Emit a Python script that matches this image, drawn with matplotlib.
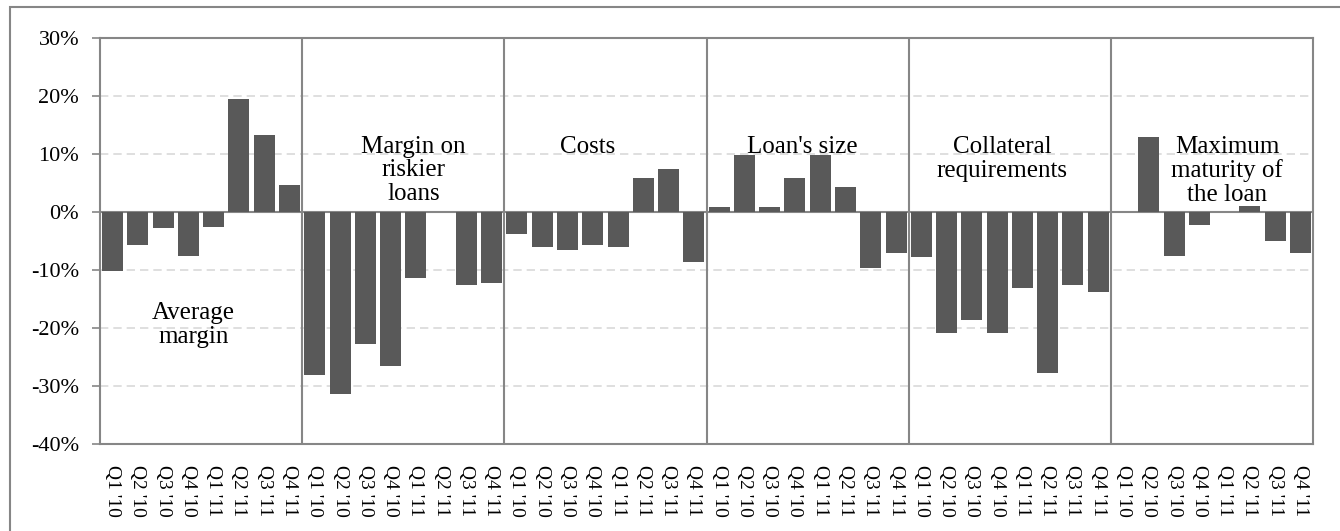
import matplotlib

matplotlib.use("Agg")
import matplotlib.pyplot as plt
from matplotlib.patches import Rectangle
from matplotlib.ticker import FuncFormatter
import numpy as np

quarters = ["Q1 '10", "Q2 '10", "Q3 '10", "Q4 '10", "Q1 '11", "Q2 '11", "Q3 '11", "Q4 '11"]
groups = [
    "Average\nmargin",
    "Margin on\nriskier\nloans",
    "Costs",
    "Loan's size",
    "Collateral\nrequirements",
    "Maximum\nmaturity of\nthe loan",
]
avg_margin = [-10.2, -5.6, -2.8, -7.5, -2.5, 19.5, 13.3, 4.6]
riskier_margin = [-28.1, -31.3, -22.8, -26.6, -11.3, 0.0, -12.6, -12.2]
costs = [-3.8, -6.0, -6.6, -5.6, -6.0, 5.9, 7.4, -8.7]
loan_size = [0.8, 9.9, 0.8, 5.9, 9.9, 4.3, -9.7, -7.1]
collateral = [-7.8, -20.9, -18.7, -20.9, -13.1, -27.8, -12.5, -13.8]
maturity = [0.0, 13.0, -7.5, -2.2, 0.0, 1.1, -5.0, -7.1]

# where each group name sits (bar index, value in %)
label_x = [3.2, 11.9, 18.8, 27.3, 35.2, 44.1]
label_y = [-19.5, 7.2, 11.2, 11.2, 9.2, 7.1]

series = [avg_margin, riskier_margin, costs, loan_size, collateral, maturity]
values = np.concatenate(series)
labels = quarters * len(groups)
n = len(quarters)

plt.rcParams["font.family"] = ["Liberation Serif", "DejaVu Serif"]
GRAY = "#868686"

fig = plt.figure(figsize=(13.4, 5.31), dpi=100)
ax = fig.add_axes([0.0746, 0.1638, 0.9053, 0.7646])

x = np.arange(len(values))
ax.bar(x, values, width=0.83, color="#595959", zorder=3)
ax.set_xlim(-0.5, len(values) - 0.5)
ax.set_ylim(-40, 30)
ax.set_yticks(np.arange(-40, 31, 10))
ax.yaxis.set_major_formatter(FuncFormatter(lambda v, _: f"{v:.0f}%"))
ax.set_xticks(x)
ax.set_xticklabels(labels, rotation=-90, fontsize=14)
ax.tick_params(axis="x", length=0, pad=15)
ax.tick_params(axis="y", length=6, width=1.2, color=GRAY, pad=9, labelsize=16)
ax.yaxis.grid(True, color="#d9d9d9", linestyle=(0, (5, 3)), linewidth=1.2, zorder=0)
ax.axhline(0, color=GRAY, linewidth=1.5, zorder=2)

for k in range(1, len(groups)):
    ax.axvline(k * n - 0.5, color=GRAY, linewidth=1.5, zorder=4)
for name, lx, ly in zip(groups, label_x, label_y):
    ax.text(lx, ly, name, ha="center", va="center", fontsize=18, linespacing=1.1, zorder=5)

for s in ax.spines.values():
    s.set_color(GRAY)
    s.set_linewidth(1.5)

# outer frame around the whole chart
fig.patches.append(Rectangle((10 / 1340, -0.1), 1.1, 1 - 7 / 531 + 0.1,
                             transform=fig.transFigure, fill=False,
                             edgecolor=GRAY, linewidth=1.5))

fig.savefig("out.png", dpi=100)
